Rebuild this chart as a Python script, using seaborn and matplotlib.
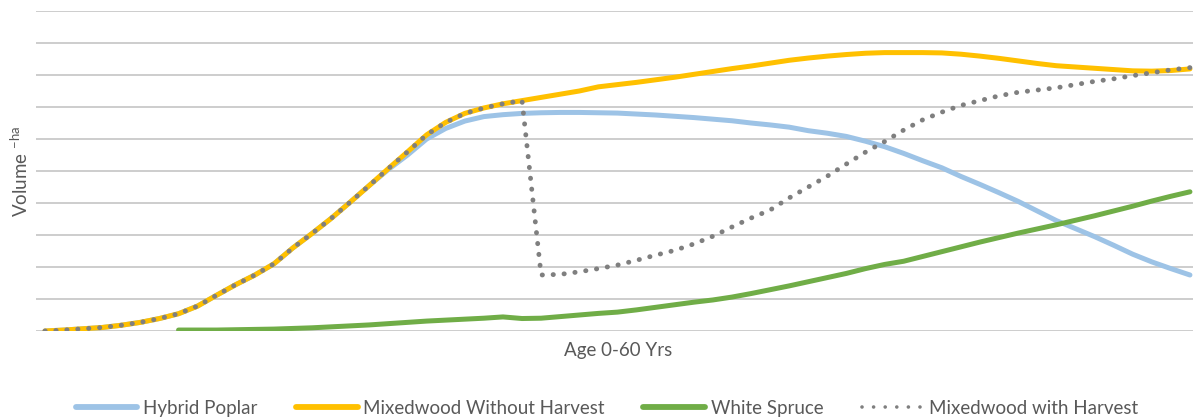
import numpy as np
import pandas as pd
import matplotlib
matplotlib.use("Agg")
import matplotlib.pyplot as plt
import seaborn as sns

# ---- data (volume per ha, arbitrary units; x = stand age in years) ----
ages = list(range(0, 61))

mixedwood_without_harvest = [
    0.0, 0.3, 0.7, 1.1, 1.8, 2.7, 3.9, 5.4, 7.8, 11.2,
    14.5, 17.5, 21.0, 26.0, 30.5, 35.2, 40.3, 45.5, 50.8, 56.0,
    61.3, 65.2, 68.0, 69.7, 71.0, 72.0, 73.0, 74.0, 75.0, 76.3,
    77.0, 77.7, 78.5, 79.3, 80.2, 81.1, 82.0, 82.8, 83.7, 84.6,
    85.3, 85.9, 86.4, 86.8, 87.0, 87.0, 87.0, 86.9, 86.5, 85.9,
    85.2, 84.4, 83.6, 82.9, 82.5, 82.1, 81.7, 81.3, 81.2, 81.4,
    81.9,
]

hybrid_poplar = [
    0.0, 0.3, 0.7, 1.1, 1.8, 2.7, 3.9, 5.4, 7.8, 11.2,
    14.5, 17.5, 21.0, 26.0, 30.5, 35.2, 40.3, 45.5, 50.5, 55.0,
    60.0, 63.3, 65.6, 67.0, 67.6, 68.0, 68.2, 68.3, 68.3, 68.2,
    68.1, 67.8, 67.5, 67.1, 66.7, 66.2, 65.7, 65.0, 64.4, 63.7,
    62.6, 61.8, 60.8, 59.3, 57.6, 55.5, 53.2, 51.0, 48.3, 45.8,
    43.2, 40.5, 37.5, 34.5, 32.0, 29.5, 26.8, 24.0, 21.6, 19.5,
    17.5,
]

white_spruce = [
    np.nan, np.nan, np.nan, np.nan, np.nan, np.nan, np.nan, 0.3, 0.3, 0.3,
    0.4, 0.5, 0.6, 0.8, 1.0, 1.3, 1.6, 1.9, 2.3, 2.7,
    3.1, 3.4, 3.7, 4.0, 4.4, 3.9, 4.0, 4.5, 5.0, 5.5,
    5.9, 6.6, 7.4, 8.2, 9.0, 9.7, 10.6, 11.7, 12.9, 14.1,
    15.4, 16.7, 18.0, 19.5, 20.8, 21.8, 23.3, 24.8, 26.3, 27.8,
    29.2, 30.6, 31.9, 33.2, 34.6, 36.0, 37.5, 39.0, 40.6, 42.1,
    43.5,
]

mixedwood_with_harvest = [
    0.0, 0.3, 0.7, 1.1, 1.8, 2.7, 3.9, 5.4, 7.8, 11.2,
    14.5, 17.5, 21.0, 26.0, 30.5, 35.2, 40.3, 45.5, 50.8, 56.0,
    61.3, 65.2, 68.0, 69.7, 71.0, 72.0, 17.5, 17.7, 18.5, 19.5,
    20.6, 22.1, 23.7, 25.2, 27.2, 29.6, 32.5, 35.3, 37.8, 41.6,
    45.0, 48.4, 52.2, 55.9, 59.2, 62.8, 66.0, 68.4, 70.5, 72.0,
    73.5, 74.6, 75.3, 76.0, 77.0, 78.0, 78.8, 79.8, 80.7, 81.6,
    82.3,
]

series_names = ["Hybrid Poplar", "Mixedwood Without Harvest",
                "White Spruce", "Mixedwood with Harvest"]

df = pd.DataFrame({
    "age": ages,
    series_names[0]: hybrid_poplar,
    series_names[1]: mixedwood_without_harvest,
    series_names[2]: white_spruce,
    series_names[3]: mixedwood_with_harvest,
})

# ---- styling ----
sns.set_theme(style="white")
plt.rcParams["font.family"] = ["Lato", "DejaVu Sans"]
plt.rcParams["mathtext.fontset"] = "custom"
plt.rcParams["mathtext.rm"] = "Lato"

text_color = "#595959"
colors = {
    series_names[0]: "#9DC3E6",
    series_names[1]: "#FFC000",
    series_names[2]: "#70AD47",
    series_names[3]: "#7F7F7F",
}

fig = plt.figure(figsize=(11.93, 4.19), dpi=100)
ax = fig.add_axes([36 / 1193, 88 / 419, 1 - 36 / 1193, 320 / 419])

for name in series_names[:3]:
    sns.lineplot(data=df, x="age", y=name, ax=ax, color=colors[name],
                 linewidth=3.6, label=name, solid_capstyle="round")

sns.lineplot(data=df, x="age", y=series_names[3], ax=ax,
             color=colors[series_names[3]], linewidth=3.5,
             linestyle=(0, (0.05, 2.2)), dash_capstyle="round",
             label=series_names[3])
dot_line = ax.lines[-1]
dot_line.set_dash_capstyle("round")
dot_line.set_dash_joinstyle("round")

ax.set_xlim(-0.47, 60.16)
ax.set_ylim(0, 100)
ax.set_yticks(np.arange(0, 101, 10))
ax.set_xticks([])
ax.tick_params(length=0, labelleft=False, labelbottom=False)
ax.grid(axis="y", color="#C0C0C0", linewidth=1.1)
ax.grid(axis="x", visible=False)
for s in ax.spines.values():
    s.set_visible(False)

ax.set_xlabel("Age 0-60 Yrs", fontsize=13.5, color=text_color)
ax.xaxis.set_label_coords((618 - 36) / 1157, -19 / 320)
ax.xaxis.label.set_verticalalignment("center")
ax.set_ylabel(r"Volume $^{\mathregular{-ha}}$", fontsize=13.5, color=text_color)
ax.yaxis.set_label_coords(-(36 - 20) / 1157, 0.5)
ax.yaxis.label.set_verticalalignment("center")

handles, labels = ax.get_legend_handles_labels()
ax.get_legend().remove()
leg = fig.legend(handles, labels, loc="center",
                 bbox_to_anchor=(607 / 1193, 1 - 408 / 419),
                 ncol=4, frameon=False, fontsize=13.5, handlelength=3.3,
                 handletextpad=0.3, columnspacing=2.05, labelcolor=text_color)
for line in leg.get_lines():
    if line.get_linestyle() in ("-", "solid"):
        line.set_linewidth(4.2)
        line.set_solid_capstyle("round")
    else:
        line.set_linewidth(2.6)
        line.set_dashes((0.01, 3.2))
        line.set_dash_capstyle("round")

fig.savefig("out.png", dpi=100)
